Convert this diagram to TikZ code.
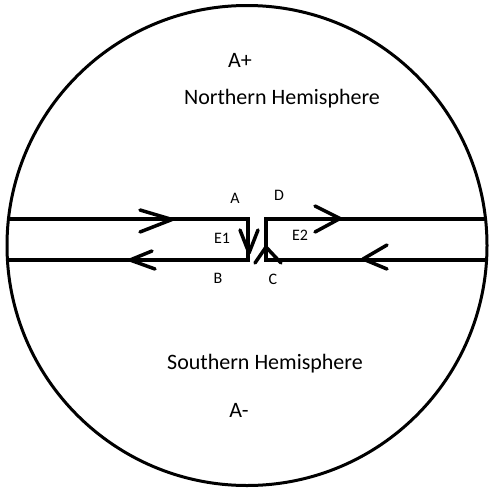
\documentclass[tikz,border=0pt]{standalone}
\usepackage{fontspec}
\setmainfont{Carlito}
\begin{document}
\begin{tikzpicture}[x=1pt,y=-1pt,
  wire/.style={line width=3.2pt, line join=miter},
  chev/.style={line width=3.5pt, line cap=round, line join=round},
  lab/.style={font=\fontsize{16}{19}\selectfont, inner sep=0pt},
  big/.style={font=\fontsize{22}{26}\selectfont, inner sep=0pt}]
\useasboundingbox (0,0) rectangle (488,490);
\node[circle, draw, line width=3pt, minimum size=480pt, inner sep=0pt] (globe) at (247,245.5) {};
% box corners
\coordinate (L1) at (8.5,219);
\coordinate (L2) at (7.4,260);
\coordinate (R1) at (485.5,219);
\coordinate (R2) at (486.6,260);
\coordinate (A1) at (248,219);
\coordinate (B1) at (248,260);
\coordinate (D1) at (266,219);
\coordinate (C1) at (266,260);
\draw[wire] (L1) -- (A1) -- (B1) -- (L2);
\draw[wire] (R1) -- (D1) -- (C1) -- (R2);
% chevrons
\draw[chev] (140,210) -- (172,219.5) -- (140,232);
\draw[chev] (152,251) -- (130,260) -- (155,269);
\draw[chev] (315,206) -- (340,218.5) -- (315,232);
\draw[chev] (387,245) -- (363,259) -- (387,269);
\draw[chev] (240,230) -- (249,253) -- (258,230);
\draw[chev] (255,263) -- (266,247) -- (281,263);
% labels
\node[lab] (la) at (235,198) {A};
\node[lab] (ld) at (279,195) {D};
\node[lab] (le1) at (222,238) {E1};
\node[lab] (le2) at (300,235) {E2};
\node[lab] (lb) at (218,278) {B};
\node[lab] (lc) at (273,279) {C};
\node[big] (ap) at (240,60) {A+};
\node[big] (nh) at (282,99) {Northern Hemisphere};
\node[big] (sh) at (265,364) {Southern Hemisphere};
\node[big] (am) at (239,410) {A-};
\end{tikzpicture}
\end{document}
